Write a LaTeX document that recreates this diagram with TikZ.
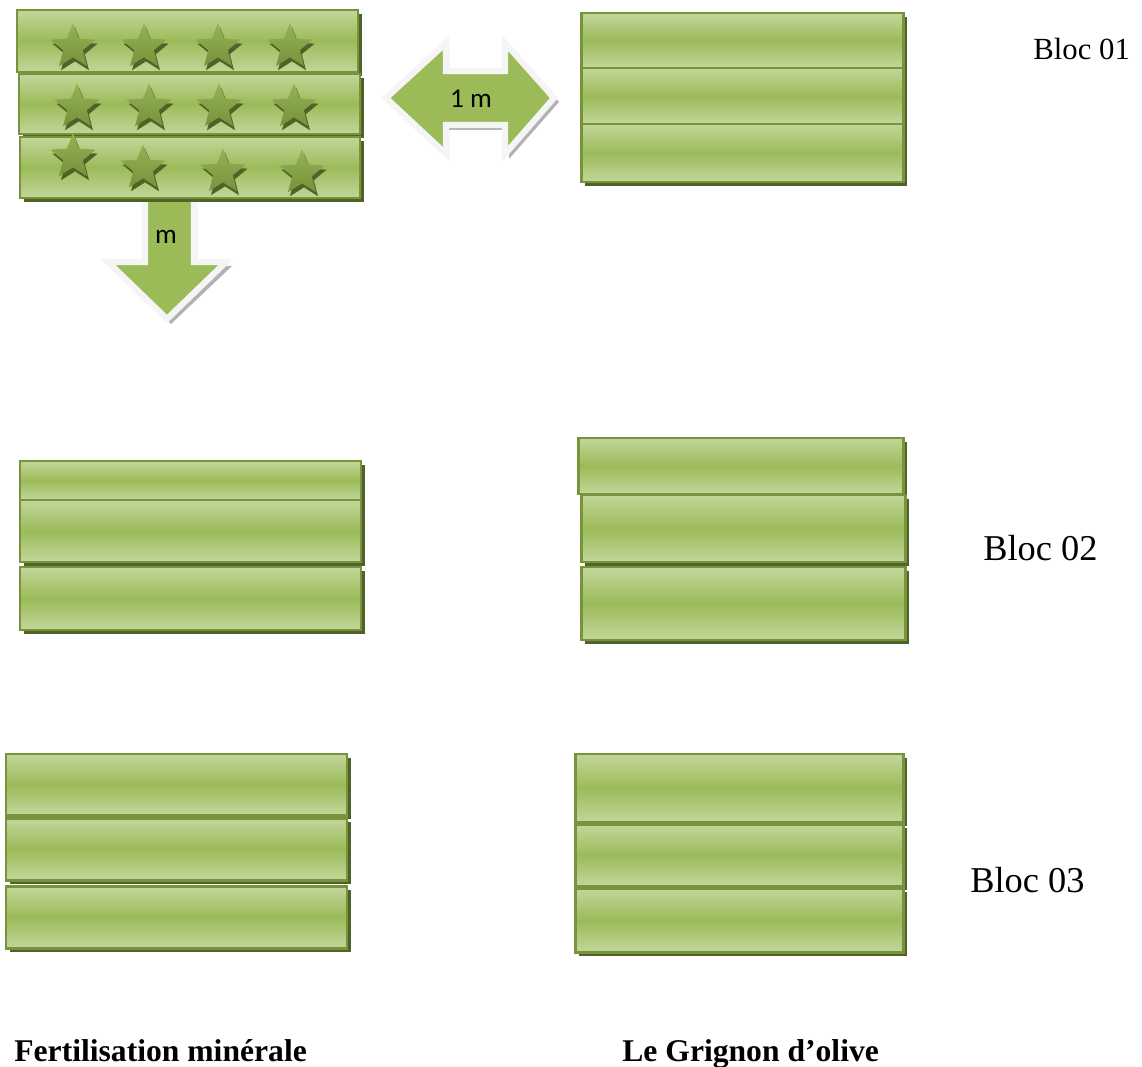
\documentclass[tikz,border=0pt]{standalone}
\usepackage{fontspec}
\setmainfont{Liberation Serif}
\newfontfamily\calibri{Carlito}
\usetikzlibrary{shapes.geometric}

\definecolor{vertclair}{HTML}{C3D69B}
\definecolor{vertmoyen}{HTML}{9BBB59}
\definecolor{vertbord}{HTML}{77933C}
\definecolor{vertombre}{HTML}{4F6228}
\definecolor{vertetoile}{HTML}{76923C}

\tikzset{
  bande/.style={draw=vertbord, line width=1.7pt, top color=vertclair,
    bottom color=vertclair, middle color=vertmoyen},
  ombre/.style={fill=vertombre},
  etoile/.style={star, star points=5, star point ratio=2.3, minimum size=0.95cm,
    inner sep=0pt, top color=vertmoyen!80!vertetoile, bottom color=vertetoile},
  etoileombre/.style={etoile, top color=vertombre, bottom color=vertombre},
  fleche/.style={fill=vertmoyen, draw=gray!8, line width=3.5pt, line join=miter},
  flecheombre/.style={fill=gray!60},
  bloc/.style={anchor=base west, inner sep=0pt},
  titre/.style={anchor=base west, inner sep=0pt, font=\bfseries\fontsize{18}{22}\selectfont},
}

% x1,y1,x2,y2 en pixels
\newcommand{\parcelle}[4]{%
  \fill[ombre] (#1+4,#2+4) rectangle (#3+4,#4+4);
  \draw[bande] (#1,#2) rectangle (#3,#4);
}

\begin{document}
\begin{tikzpicture}[x=0.02cm, y=-0.02cm]
  \useasboundingbox (0,0) rectangle (1142,1067);

  % fleche verticale (sous les bandes)
  \fill[flecheombre] (147,194) -- (197,194) -- (197,266) -- (232,266) -- (171,324) -- (111,266) -- (147,266) -- cycle;
  \draw[fleche] (145,190) -- (194,190) -- (194,262) -- (226,262) -- (167,319) -- (108,262) -- (145,262) -- cycle;
  \node[font=\calibri\fontsize{15.5}{18}\selectfont] (m) at (166,237) {m};

  % bloc 01
  \parcelle{17}{10}{358}{72}
  \parcelle{19}{74}{360}{134}
  \parcelle{20}{137}{360}{198}
  \foreach \x/\y [count=\i] in {73/47,144/47,218/47,290/47,
      77/107,149/107,219/107,294/107,
      73/157,143/168,223/172,302/173}{
    \node[etoileombre] (ombre\i) at (\x+2,\y+4) {};
    \node[etoile] (etoile\i) at (\x,\y) {};
  }

  \fill[flecheombre] (389,102) -- (449,46) -- (449,74) -- (509,74) -- (509,46) -- (559,102) -- (509,159) -- (509,130) -- (449,130) -- (449,159) -- cycle;
  \draw[fleche] (386,98) -- (446,43) -- (446,71) -- (505,71) -- (505,43) -- (554,98) -- (505,154) -- (505,125) -- (446,125) -- (446,154) -- cycle;
  \node[font=\calibri\fontsize{15.5}{18}\selectfont] (unm) at (471,99) {1 m};

  \parcelle{581}{13}{903}{68}
  \parcelle{581}{68}{903}{124}
  \parcelle{581}{124}{903}{182}
  \node[bloc, font=\fontsize{17.5}{20}\selectfont] (bloc1) at (1033,60) {Bloc 01};

  % bloc 02
  \parcelle{20}{461}{361}{500}
  \parcelle{20}{500}{361}{562}
  \parcelle{20}{567}{361}{630}
  \parcelle{578}{438}{903}{494}
  \parcelle{581}{495}{905}{562}
  \parcelle{581}{567}{905}{640}
  \node[bloc, font=\fontsize{20.7}{24}\selectfont] (bloc2) at (983,560) {Bloc 02};

  % bloc 03
  \parcelle{6}{754}{347}{815}
  \parcelle{6}{818}{347}{880}
  \parcelle{6}{886}{347}{948}
  \parcelle{575}{754}{903}{822}
  \parcelle{575}{824}{903}{886}
  \parcelle{575}{888}{903}{952}
  \node[bloc, font=\fontsize{20.7}{24}\selectfont] (bloc3) at (970,892) {Bloc 03};

  \node[titre] (fm) at (14,1061) {Fertilisation minérale};
  \node[titre] (go) at (622,1061) {Le Grignon d’olive};
\end{tikzpicture}
\end{document}
